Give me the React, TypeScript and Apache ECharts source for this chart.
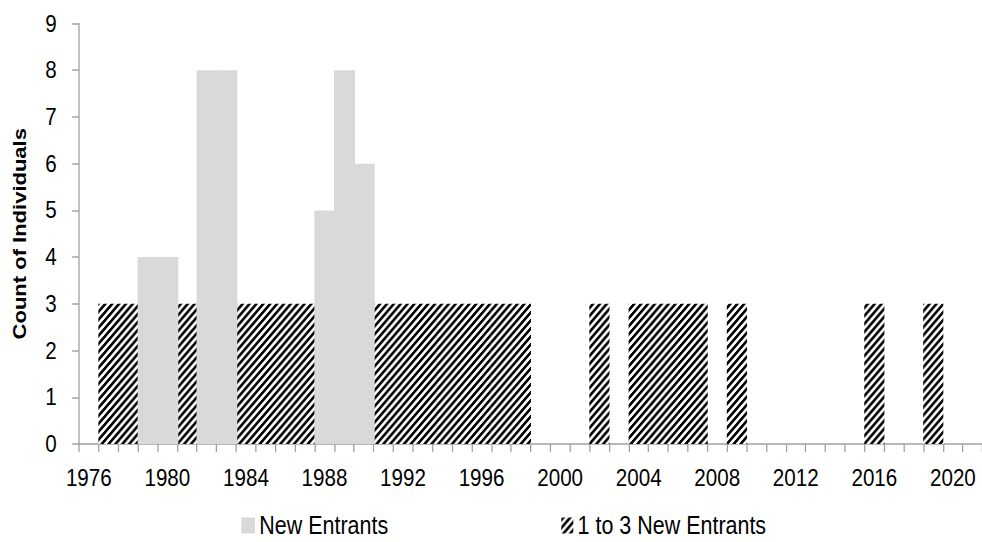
import React, { useEffect, useRef } from "react";
import * as echarts from "echarts";

const years = [
  "1976", "1977", "1978", "1979", "1980", "1981", "1982", "1983", "1984", "1985",
  "1986", "1987", "1988", "1989", "1990", "1991", "1992", "1993", "1994", "1995",
  "1996", "1997", "1998", "1999", "2000", "2001", "2002", "2003", "2004", "2005",
  "2006", "2007", "2008", "2009", "2010", "2011", "2012", "2013", "2014", "2015",
  "2016", "2017", "2018", "2019", "2020", "2021",
];

const newEntrantYears = ["1979", "1980", "1982", "1983", "1988", "1989", "1990"];
const newEntrantCounts = [4, 4, 8, 8, 5, 8, 6];

const smallEntrantYears = [
  "1977", "1978", "1981", "1984", "1985", "1986", "1987",
  "1991", "1992", "1993", "1994", "1995", "1996", "1997", "1998",
  "2002", "2004", "2005", "2006", "2007", "2009", "2016", "2019",
];
const smallEntrantCounts = [
  3, 3, 3, 3, 3, 3, 3,
  3, 3, 3, 3, 3, 3, 3, 3,
  3, 3, 3, 3, 3, 3, 3, 3,
];

const yTicks = { min: 0, max: 9, interval: 1 };

const CAT = 23; // category width before compression
const S = 19.75 / CAT; // horizontal compression of the reference
const W = Math.ceil(982 / S);
const H = 542;
const FONT = "'Liberation Sans', Arial, sans-serif";

function makeHatch(): HTMLCanvasElement {
  const p = 8;
  const c = document.createElement("canvas");
  c.width = p;
  c.height = p;
  const ctx = c.getContext("2d")!;
  const img = ctx.createImageData(p, p);
  for (let y = 0; y < p; y++) {
    for (let x = 0; x < p; x++) {
      const on = (x + y) % p < 4;
      const i = (y * p + x) * 4;
      const v = on ? 0 : 255;
      img.data[i] = v;
      img.data[i + 1] = v;
      img.data[i + 2] = v;
      img.data[i + 3] = 255;
    }
  }
  ctx.putImageData(img, 0, 0);
  return c;
}

export default function App() {
  const ref = useRef<HTMLDivElement>(null);

  useEffect(() => {
    if (!ref.current) return;
    const chart = echarts.init(ref.current, undefined, { renderer: "svg", width: W, height: H });
    const hatch = makeHatch();
    const left = 92;

    chart.setOption({
      animation: false,
      backgroundColor: "#ffffff",
      textStyle: { fontFamily: FONT },
      grid: { left, top: 23.5, width: CAT * years.length, height: 420.5, containLabel: false },
      legend: [
        {
          data: ["New Entrants"],
          left: 237 / S,
          top: 508,
          icon: "rect",
          itemWidth: 16,
          itemHeight: 16,
          itemGap: 0,
          textStyle: { fontSize: 25, color: "#000", fontFamily: FONT },
        },
        {
          data: ["1 to 3 New Entrants"],
          left: 557 / S,
          top: 508,
          icon: "rect",
          itemWidth: 14,
          itemHeight: 16,
          itemGap: 0,
          textStyle: { fontSize: 25, color: "#000", fontFamily: FONT },
        },
      ],
      xAxis: {
        type: "category",
        data: years,
        boundaryGap: true,
        axisLine: { show: true, lineStyle: { color: "#A0A0A0", width: 1.5 } },
        axisTick: { show: true, interval: 0, length: 8, lineStyle: { color: "#A0A0A0", width: 1.5 } },
        axisLabel: { interval: 3, fontSize: 24, color: "#000", margin: 22, fontFamily: FONT },
        splitLine: { show: false },
        splitArea: { show: false },
      },
      yAxis: {
        type: "value",
        min: yTicks.min,
        max: yTicks.max,
        interval: yTicks.interval,
        name: "Count of Individuals",
        nameLocation: "middle",
        nameGap: 59,
        nameTextStyle: { fontSize: 22, fontWeight: "bold", color: "#000", fontFamily: FONT },
        axisLine: { show: true, lineStyle: { color: "#A0A0A0", width: 1.5 } },
        axisTick: { show: true, length: 8, lineStyle: { color: "#A0A0A0", width: 1.5 } },
        axisLabel: { fontSize: 24, color: "#000", margin: 26, fontFamily: FONT },
        splitLine: { show: false },
      },
      series: [
        {
          name: "New Entrants",
          type: "bar",
          data: newEntrantYears.map((y, i) => [y, newEntrantCounts[i]]),
          barGap: "-100%",
          barWidth: CAT + 1.5,
          itemStyle: { color: "#D9D9D9" },
          z: 3,
        },
        {
          name: "1 to 3 New Entrants",
          type: "bar",
          data: smallEntrantYears.map((y, i) => [y, smallEntrantCounts[i]]),
          barGap: "-100%",
          barWidth: CAT + 0.5,
          itemStyle: { color: { image: hatch, repeat: "repeat" } as any },
          z: 2,
        },
      ],
    });

    return () => chart.dispose();
  }, []);

  return (
    <div style={{ position: "absolute", left: 0, top: 0, width: 982, height: 542, overflow: "hidden", background: "#fff" }}>
      <div
        ref={ref}
        style={{ width: W, height: H, transform: `scaleX(${S})`, transformOrigin: "0 0" }}
      />
    </div>
  );
}
